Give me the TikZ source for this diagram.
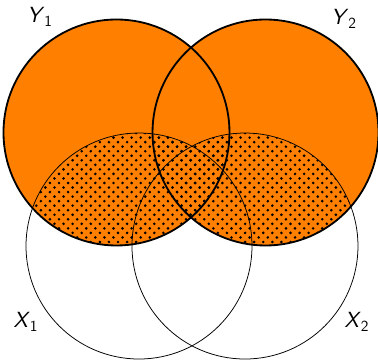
\documentclass[tikz,border=0pt]{standalone}
\usetikzlibrary{patterns}
\definecolor{vorange}{RGB}{255,128,0}
\pgfdeclarepatternformonly{bigdots}{\pgfqpoint{-1.5pt}{-1.5pt}}{\pgfqpoint{5pt}{5pt}}{\pgfqpoint{6pt}{6pt}}{%
  \pgfpathcircle{\pgfqpoint{0pt}{0pt}}{0.95pt}%
  \pgfpathcircle{\pgfqpoint{3pt}{3pt}}{0.95pt}%
  \pgfusepath{fill}%
}
\tikzset{
  ycirc/.style={draw=black, line width=1.2pt},
  xcirc/.style={draw=black, line width=0.5pt},
  dotfill/.style={pattern=bigdots, pattern color=black},
  lbl/.style={font=\sffamily\fontsize{14.5}{17}\selectfont, inner sep=0pt}
}
\newcommand{\setlab}[2]{\textit{#1}\textsubscript{#2}}
\begin{document}
\begin{tikzpicture}
\useasboundingbox (0,0) rectangle (8.781,8.363);
\def\R{2.625}
\coordinate (Y1) at (2.706,5.285);
\coordinate (Y2) at (6.168,5.285);
\coordinate (X1) at (3.229,2.648);
\coordinate (X2) at (5.691,2.648);
% orange fill of Y1 and Y2
\fill[vorange] (Y1) circle (\R) (Y2) circle (\R);
% dotted pattern on (Y1 u Y2) n (X1 u X2)
\begin{scope}
  \clip (Y1) circle (\R);
  \fill[dotfill] (X1) circle (\R) (X2) circle (\R);
\end{scope}
\begin{scope}
  \clip (Y2) circle (\R);
  \fill[dotfill] (X1) circle (\R) (X2) circle (\R);
\end{scope}
% outlines
\draw[xcirc] (X1) circle (\R);
\draw[xcirc] (X2) circle (\R);
\draw[ycirc] (Y1) circle (\R);
\draw[ycirc] (Y2) circle (\R);
% labels
\node[lbl] (lY1) at (0.929,7.968) {\setlab{Y}{1}};
\node[lbl] (lY2) at (7.991,7.921) {\setlab{Y}{2}};
\node[lbl] (lX1) at (0.604,0.883) {\setlab{X}{1}};
\node[lbl] (lX2) at (8.293,0.883) {\setlab{X}{2}};
\end{tikzpicture}
\end{document}
